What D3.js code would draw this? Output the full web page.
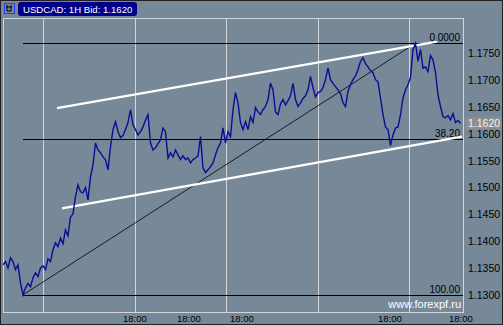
<!DOCTYPE html>
<html>
<head>
<meta charset="utf-8">
<script src="https://cdn.jsdelivr.net/npm/d3@7/dist/d3.min.js"></script>
<style>
  html, body { margin: 0; padding: 0; background: #778899; }
  svg { display: block; }
  text { font-family: "Liberation Sans", Arial, sans-serif; }
</style>
</head>
<body>
<svg id="chart"></svg>
<script>
    // hourly bid closes, USDCAD
    var closes = [
        1.1356, 1.1362, 1.1350, 1.1369, 1.1362, 1.1347, 1.1356, 1.1322, 1.1300, 1.1313,
        1.1321, 1.1315, 1.1332, 1.1341, 1.1334, 1.1350, 1.1354, 1.1347, 1.1367, 1.1362,
        1.1384, 1.1397, 1.1390, 1.1406, 1.1395, 1.1421, 1.1410, 1.1445, 1.1451, 1.1483,
        1.1505, 1.1492, 1.1490, 1.1500, 1.1477, 1.1520, 1.1542, 1.1583, 1.1570, 1.1565,
        1.1557, 1.1552, 1.1533, 1.1576, 1.1608, 1.1623, 1.1604, 1.1593, 1.1597, 1.1608,
        1.1621, 1.1645, 1.1617, 1.1608, 1.1598, 1.1604, 1.1613, 1.1626, 1.1636, 1.1583,
        1.1570, 1.1574, 1.1582, 1.1589, 1.1611, 1.1604, 1.1555, 1.1565, 1.1557, 1.1570,
        1.1561, 1.1552, 1.1559, 1.1552, 1.1555, 1.1546, 1.1552, 1.1555, 1.1559, 1.1595,
        1.1537, 1.1528, 1.1533, 1.1539, 1.1546, 1.1561, 1.1574, 1.1583, 1.1611, 1.1583,
        1.1604, 1.1595, 1.1645, 1.1677, 1.1658, 1.1621, 1.1608, 1.1623, 1.1608, 1.1632,
        1.1621, 1.1649, 1.1641, 1.1636, 1.1645, 1.1651, 1.1664, 1.1695, 1.1682, 1.1641,
        1.1636, 1.1656, 1.1664, 1.1654, 1.1662, 1.1671, 1.1694, 1.1664, 1.1651, 1.1658,
        1.1666, 1.1671, 1.1682, 1.1707, 1.1686, 1.1669, 1.1677, 1.1679, 1.1686, 1.1701,
        1.1723, 1.1701, 1.1694, 1.1688, 1.1682, 1.1675, 1.1658, 1.1651, 1.1679, 1.1692,
        1.1701, 1.1708, 1.1720, 1.1735, 1.1742, 1.1731, 1.1725, 1.1718, 1.1714, 1.1701,
        1.1697, 1.1667, 1.1636, 1.1613, 1.1608, 1.1578, 1.1598, 1.1611, 1.1613, 1.1636,
        1.1667, 1.1682, 1.1692, 1.1705, 1.1757, 1.1769, 1.1735, 1.1757, 1.1722, 1.1725,
        1.1716, 1.1746, 1.1738, 1.1714, 1.1673, 1.1651, 1.1632, 1.1630, 1.1634, 1.1626,
        1.1638, 1.1621, 1.1625, 1.1620
    ];

    var priceTicks = [1.1300, 1.1350, 1.1400, 1.1450, 1.1500, 1.1550, 1.1600, 1.1650, 1.1700, 1.1750];
    var timeTickBars = [48, 69.6, 90.8, 150, 178.4];
    var timeTickLabels = ['18:00', '18:00', '18:00', '18:00', '18:00'];
    var gridBars = [16, 52.8, 89.2, 126, 162.4];

    var fibLevels = [0, 38.2, 100];
    var fibLabels = ['0.0000', '38.20', '100.00'];

    // channel anchors: [bar, price]
    var upperChannel = [[21.6, 1.1648], [173.6, 1.1772]];
    var lowerChannel = [[23.6, 1.1461], [183.6, 1.1595]];

    var title = 'USDCAD: 1H Bid: 1.1620';
    var lastPrice = 1.1620;

    var width = 503, height = 325;
    var plotLeft = 3, plotRight = 463, plotTop = 18, plotBottom = 312;

    var svg = d3.select('#chart')
        .attr('width', width)
        .attr('height', height);

    svg.append('rect')
        .attr('width', width)
        .attr('height', height)
        .attr('fill', '#778899');

    var scaleX = d3.scaleLinear()
        .domain([0, closes.length])
        .range([plotLeft, plotRight]);

    var scaleY = d3.scaleLinear()
        .domain([1.1268, 1.1816])
        .range([plotBottom, plotTop]);

    // vertical grid
    svg.append('g').selectAll('line')
        .data(gridBars)
        .enter().append('line')
        .attr('x1', function (d) { return Math.round(scaleX(d)) + 0.5; })
        .attr('x2', function (d) { return Math.round(scaleX(d)) + 0.5; })
        .attr('y1', plotTop)
        .attr('y2', plotBottom)
        .attr('stroke', '#d3d7dc')
        .attr('stroke-width', 1);

    // plot frame
    svg.append('rect')
        .attr('x', plotLeft + 0.5)
        .attr('y', plotTop + 0.5)
        .attr('width', plotRight - plotLeft)
        .attr('height', plotBottom - plotTop)
        .attr('fill', 'none')
        .attr('stroke', '#d3d7dc');

    // fibonacci retracement from swing low to swing high
    var lowIdx = d3.minIndex(closes), highIdx = d3.maxIndex(closes);
    var low = closes[lowIdx], high = closes[highIdx];

    var fib = svg.append('g').attr('class', 'fib');

    fib.append('line')
        .attr('x1', scaleX(lowIdx))
        .attr('y1', scaleY(low))
        .attr('x2', scaleX(highIdx))
        .attr('y2', scaleY(high))
        .attr('stroke', '#000')
        .attr('stroke-width', 0.8);

    fibLevels.forEach(function (lvl, i) {
        var price = high - (high - low) * lvl / 100;
        var yy = Math.round(scaleY(price)) + 0.5;

        fib.append('line')
            .attr('x1', scaleX(lowIdx))
            .attr('x2', plotRight)
            .attr('y1', yy)
            .attr('y2', yy)
            .attr('stroke', '#000')
            .attr('stroke-width', 1.2);

        fib.append('text')
            .attr('x', plotRight - 3)
            .attr('y', yy - 3)
            .attr('text-anchor', 'end')
            .attr('font-size', '10px')
            .attr('fill', '#000')
            .text(fibLabels[i]);
    });

    // channel lines
    var chanLine = d3.line()
        .x(function (d) { return scaleX(d[0]); })
        .y(function (d) { return scaleY(d[1]); });

    [upperChannel, lowerChannel].forEach(function (c) {
        svg.append('path')
            .datum(c)
            .attr('d', chanLine)
            .attr('fill', 'none')
            .attr('stroke', '#fff')
            .attr('stroke-width', 2.2);
    });

    // price line
    var line = d3.line()
        .x(function (d, i) { return scaleX(i); })
        .y(function (d) { return scaleY(d); })
        .curve(d3.curveLinear);

    svg.append('path')
        .datum(closes)
        .attr('d', line)
        .attr('fill', 'none')
        .attr('stroke', '#0c0c96')
        .attr('stroke-width', 1.4)
        .attr('stroke-linejoin', 'miter');

    // price axis
    svg.append('g')
        .attr('transform', 'translate(' + plotRight + ',0)')
        .call(d3.axisRight(scaleY)
            .tickValues(priceTicks)
            .tickSize(0)
            .tickPadding(5)
            .tickFormat(d3.format('.4f')))
        .call(function (g) {
            g.select('.domain').remove();
            g.selectAll('.tick text')
                .attr('fill', '#000')
                .attr('font-size', '10.5px')
                .attr('font-family', '"Liberation Sans", Arial, sans-serif');
        });

    // last price marker
    var lpY = scaleY(lastPrice);
    svg.append('rect')
        .attr('x', 465)
        .attr('y', lpY - 6)
        .attr('width', 37)
        .attr('height', 12)
        .attr('fill', '#8e8e8e');

    svg.append('text')
        .attr('x', 468)
        .attr('y', lpY)
        .attr('dy', '0.35em')
        .attr('font-size', '10.5px')
        .attr('fill', '#f2f2f2')
        .text(d3.format('.4f')(lastPrice));

    // time labels
    svg.append('g').selectAll('text')
        .data(timeTickBars)
        .enter().append('text')
        .attr('x', function (d) { return scaleX(d); })
        .attr('y', 322)
        .attr('font-size', '9.5px')
        .attr('fill', '#000')
        .text(function (d, i) { return timeTickLabels[i]; });

    // watermark
    svg.append('text')
        .attr('x', 461)
        .attr('y', 308)
        .attr('text-anchor', 'end')
        .attr('font-size', '11px')
        .attr('fill', '#fff')
        .text('www.forexpf.ru');

    // title badge
    svg.append('rect')
        .attr('x', 18)
        .attr('y', 2)
        .attr('width', 119)
        .attr('height', 14)
        .attr('rx', 3)
        .attr('fill', '#00008b');

    svg.append('text')
        .attr('x', 23)
        .attr('y', 12.5)
        .attr('font-size', '9.6px')
        .attr('fill', '#fff')
        .text(title);

    // little chart icon
    var icon = svg.append('g').attr('transform', 'translate(4,3)');
    icon.append('rect')
        .attr('x', 0.5).attr('y', 0.5)
        .attr('width', 10).attr('height', 10)
        .attr('fill', 'none')
        .attr('stroke', '#1f3cff');
    icon.append('path')
        .attr('d', 'M3,2 V8 H7 V2 M2,4 H8')
        .attr('fill', 'none')
        .attr('stroke', '#000')
        .attr('stroke-width', 1);

    // outer border
    svg.append('rect')
        .attr('x', 0.5)
        .attr('y', 0.5)
        .attr('width', width - 1)
        .attr('height', height - 1)
        .attr('fill', 'none')
        .attr('stroke', '#222');
</script>
</body>
</html>
